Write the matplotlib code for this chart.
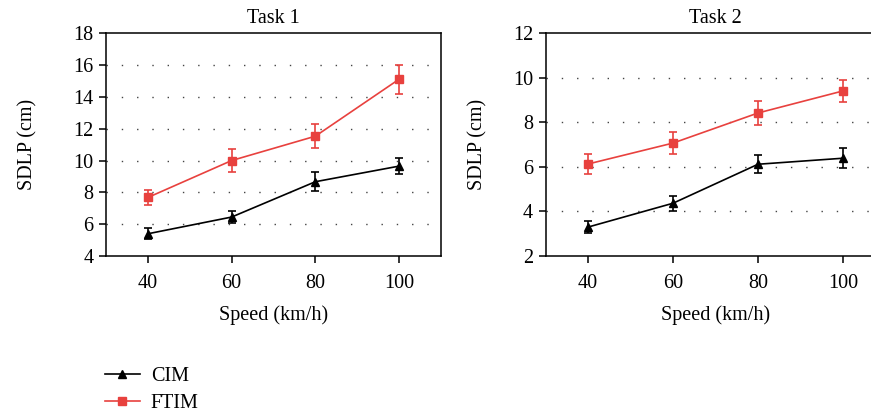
import matplotlib
matplotlib.use("Agg")
import matplotlib.pyplot as plt
from matplotlib.lines import Line2D

plt.rcParams['font.family'] = ['Liberation Serif', 'DejaVu Serif']

speed = [40, 60, 80, 100]

# Task 1
cim1 = [5.4, 6.45, 8.67, 9.65]
cim1_err = [0.35, 0.35, 0.59, 0.52]
ftim1 = [7.68, 10.0, 11.53, 15.11]
ftim1_err = [0.49, 0.71, 0.74, 0.92]

# Task 2
cim2 = [3.3, 4.37, 6.12, 6.39]
cim2_err = [0.28, 0.34, 0.41, 0.45]
ftim2 = [6.13, 7.07, 8.42, 9.41]
ftim2_err = [0.46, 0.49, 0.55, 0.51]

red = '#e8413e'
fs = 14.5

fig = plt.figure(figsize=(8.71, 4.15), dpi=100)
ax1 = fig.add_axes([0.1217, 0.383, 0.3846, 0.537])
ax2 = fig.add_axes([0.6263, 0.383, 0.3904, 0.537])

panels = [
    (ax1, 'Task 1', cim1, cim1_err, ftim1, ftim1_err, (4, 18), range(4, 19, 2), 26),
    (ax2, 'Task 2', cim2, cim2_err, ftim2, ftim2_err, (2, 12), range(2, 13, 2), 18),
]

for ax, title, c, ce, f, fe, ylim, yt, lp in panels:
    ax.errorbar(speed, c, yerr=ce, color='black', marker='^', ms=6,
                lw=1.2, elinewidth=1.2, capsize=3, capthick=1.2, zorder=3)
    ax.errorbar(speed, f, yerr=fe, color=red, marker='s', ms=6,
                lw=1.2, elinewidth=1.2, capsize=3, capthick=1.2, zorder=3)
    ax.set_xlim(30, 110)
    ax.set_ylim(*ylim)
    ax.set_xticks(speed)
    ax.set_yticks(list(yt))
    ax.set_title(title, fontsize=fs, pad=7)
    ax.set_xlabel('Speed (km/h)', fontsize=fs, labelpad=9)
    ax.set_ylabel('SDLP (cm)', fontsize=fs, labelpad=lp)
    ax.tick_params(labelsize=fs, direction='out', length=5, width=1.1)
    ax.tick_params(axis='x', pad=8)
    ax.tick_params(axis='y', pad=4)
    for s in ax.spines.values():
        s.set_linewidth(1.1)
    for y in list(yt)[1:-1]:
        ax.axhline(y, color='#444444', lw=1.0, ls=(0, (1, 10)), zorder=1)

handles = [
    Line2D([], [], color='black', marker='^', ms=6, lw=1.2),
    Line2D([], [], color=red, marker='s', ms=6, lw=1.2),
]
fig.legend(handles, ['CIM', 'FTIM'], loc='lower left',
           bbox_to_anchor=(0.12, 0.004), frameon=False, fontsize=fs,
           borderpad=0, borderaxespad=0,
           handlelength=1.75, handletextpad=0.55, labelspacing=0.4)

fig.savefig('out.png', dpi=100)
